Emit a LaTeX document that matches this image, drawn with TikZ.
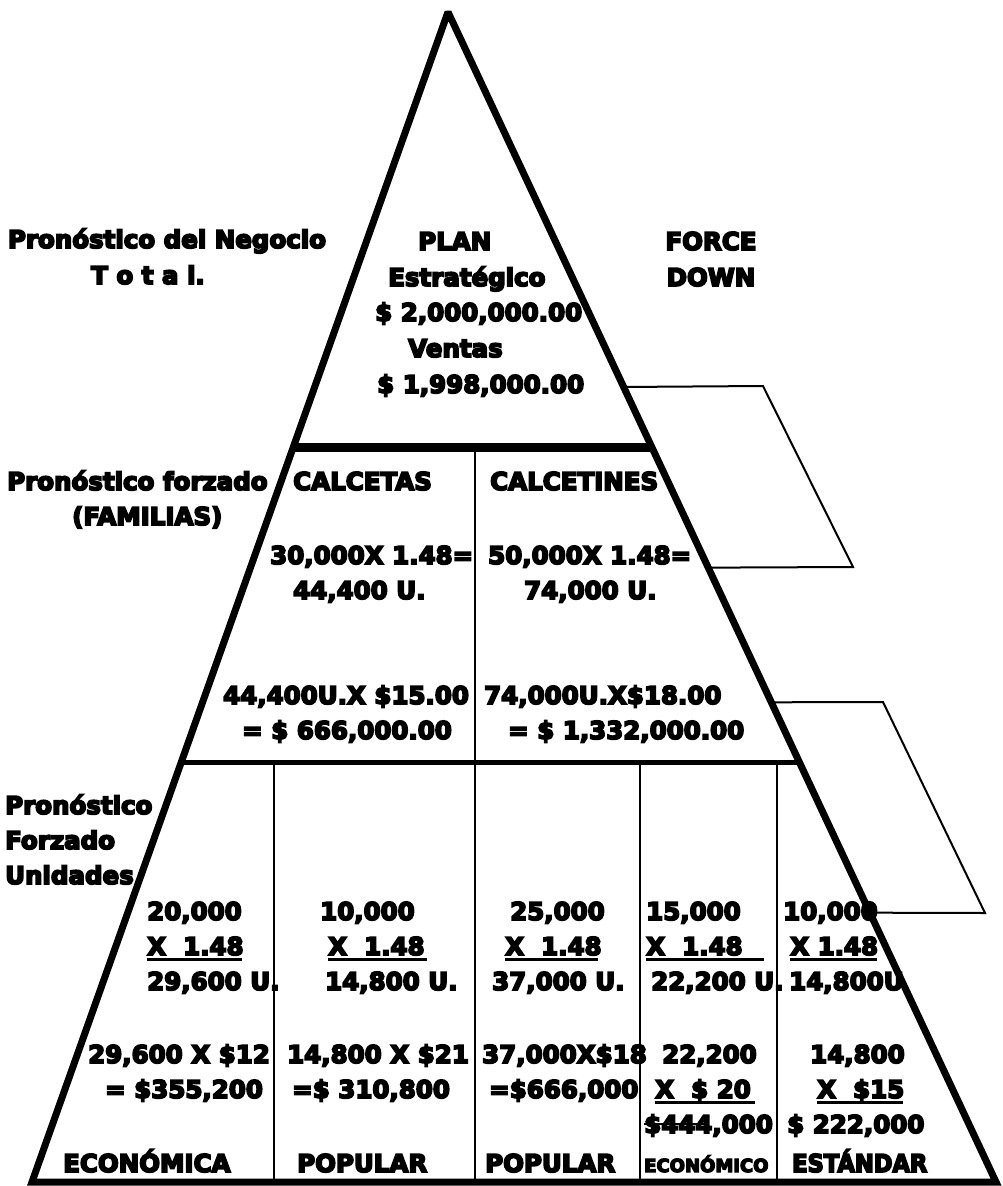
\documentclass[tikz,border=0pt]{standalone}
\usepackage{fontspec}
\newfontfamily\heavyfont{DejaVu Sans}[FakeBold=7]
\usetikzlibrary{calc}
\begin{document}
\begin{tikzpicture}[x=1pt,y=-1pt,
  lbl/.style={inner sep=0pt, font=\heavyfont\bfseries\fontsize{24.5}{30}\selectfont},
  small/.style={inner sep=0pt, font=\heavyfont\bfseries\fontsize{18}{22}\selectfont},
  outline/.style={line width=7pt, line join=miter, miter limit=2},
  heavybar/.style={line width=9pt},
  midbar/.style={line width=5pt},
  thinline/.style={line width=2pt},
  ulbar/.style={line width=2.3pt}]
\useasboundingbox (0,0) rectangle (1002,1186);

% pyramid corners
\coordinate (apex) at (448,12);
\coordinate (bl) at (32,1182);
\coordinate (br) at (996,1182);

% levels on the two sides
\coordinate (l1) at ($(apex)!0.3725!(bl)$);
\coordinate (r1) at ($(apex)!0.3725!(br)$);
\coordinate (l2) at ($(apex)!0.6411!(bl)$);
\coordinate (r2) at ($(apex)!0.6411!(br)$);

% side brackets on the right edge
\coordinate (pa1) at ($(apex)!0.3205!(br)$);
\coordinate (pa2) at (763,386);
\coordinate (pa3) at (853,567);
\coordinate (pa4) at ($(apex)!0.4749!(br)$);
\coordinate (pb1) at ($(apex)!0.5900!(br)$);
\coordinate (pb2) at (883,702);
\coordinate (pb3) at (985,913);
\coordinate (pb4) at ($(apex)!0.7698!(br)$);

\draw[thinline] (pa1) -- (pa2) -- (pa3) -- (pa4);
\draw[thinline] (pb1) -- (pb2) -- (pb3) -- (pb4);

% dividers
\draw[heavybar] (l1) -- (r1);
\draw[midbar] (l2) -- (r2);
\draw[thinline] (475,447) -- (475,762);
\foreach \xd in {274,475,640,777}
  \draw[thinline] (\xd,762) -- (\xd,1182);

\draw[outline] (apex) -- (br) -- (bl) -- cycle;

% top level
\node[lbl, anchor=base] (pn1) at (167,248) {Pronóstico del Negocio};
\node[lbl, anchor=base] (pn2) at (148,284) {T o t a l.};
\node[lbl, anchor=base west] (plan1) at (418,250) {PLAN};
\node[lbl, anchor=base west] (plan2) at (388,286) {Estratégico};
\node[lbl, anchor=base west] (plan3) at (375,321) {\$ 2,000,000.00};
\node[lbl, anchor=base west] (plan4) at (408,357) {Ventas};
\node[lbl, anchor=base west] (plan5) at (377,393) {\$ 1,998,000.00};
\node[lbl, anchor=base] (fd1) at (711,250) {FORCE};
\node[lbl, anchor=base] (fd2) at (711,286) {DOWN};

% families level
\node[lbl, anchor=base west] (pf1) at (7,490) {Pronóstico forzado};
\node[lbl, anchor=base west] (pf2) at (72,525) {(FAMILIAS)};
\node[lbl, anchor=base west] (cs1) at (293,490) {CALCETAS};
\node[lbl, anchor=base west] (cs2) at (270,564) {30,000X 1.48=};
\node[lbl, anchor=base west] (cs3) at (293,599) {44,400 U.};
\node[lbl, anchor=base west] (cs4) at (223,704) {44,400U.X \$15.00};
\node[lbl, anchor=base west] (cs5) at (242,739) {= \$ 666,000.00};
\node[lbl, anchor=base west] (cn1) at (490,490) {CALCETINES};
\node[lbl, anchor=base west] (cn2) at (488,564) {50,000X 1.48=};
\node[lbl, anchor=base west] (cn3) at (524,599) {74,000 U.};
\node[lbl, anchor=base west] (cn4) at (484,704) {74,000U.X\$18.00};
\node[lbl, anchor=base west] (cn5) at (508,739) {= \$ 1,332,000.00};

% units level
\node[lbl, anchor=base west] (pu1) at (5,814) {Pronóstico};
\node[lbl, anchor=base west] (pu2) at (5,849) {Forzado};
\node[lbl, anchor=base west] (pu3) at (5,884) {Unidades};

% column 1
\node[lbl, anchor=base west] (a1) at (147,920) {20,000};
\node[lbl, anchor=base west] (a2) at (147,955) {X\ \ 1.48};
\node[lbl, anchor=base west] (a3) at (147,990) {29,600 U.};
\node[lbl, anchor=base west] (a4) at (88,1063) {29,600 X \$12};
\node[lbl, anchor=base west] (a5) at (105,1098) {= \$355,200};
\node[lbl, anchor=base west] (a6) at (63,1172) {ECONÓMICA};
\draw[ulbar] ([yshift=-4.5pt]a2.base west) -- ++(95,0);

% column 2
\node[lbl, anchor=base west] (b1) at (320,920) {10,000};
\node[lbl, anchor=base west] (b2) at (328,955) {X\ \ 1.48};
\node[lbl, anchor=base west] (b3) at (325,990) {14,800 U.};
\node[lbl, anchor=base west] (b4) at (287,1063) {14,800 X \$21};
\node[lbl, anchor=base west] (b5) at (292,1098) {=\$ 310,800};
\node[lbl, anchor=base west] (b6) at (297,1172) {POPULAR};
\draw[ulbar] ([yshift=-4.5pt]b2.base west) -- ++(99,0);

% column 3
\node[lbl, anchor=base west] (c1) at (510,920) {25,000};
\node[lbl, anchor=base west] (c2) at (505,955) {X\ \ 1.48};
\node[lbl, anchor=base west] (c3) at (492,990) {37,000 U.};
\node[lbl, anchor=base west] (c4) at (482,1063) {37,000X\$18};
\node[lbl, anchor=base west] (c5) at (489,1098) {=\$666,000};
\node[lbl, anchor=base west] (c6) at (485,1172) {POPULAR};
\draw[ulbar] ([yshift=-4.5pt]c2.base west) -- ++(93,0);

% column 4
\node[lbl, anchor=base west] (d1) at (646,920) {15,000};
\node[lbl, anchor=base west] (d2) at (646,955) {X\ \ 1.48};
\node[lbl, anchor=base west] (d3) at (651,990) {22,200 U.};
\node[lbl, anchor=base west] (d4) at (662,1063) {22,200};
\node[lbl, anchor=base west] (d5) at (655,1098) {X\ \ \$ 20};
\node[lbl, anchor=base west] (d6) at (644,1133) {\$444,000};
\node[small, anchor=base west] (d7) at (644,1172) {ECONÓMICO};
\draw[ulbar] ([yshift=-4.5pt]d2.base west) -- ++(118,0);
\draw[ulbar] ([yshift=-4.5pt]d5.base west) -- ++(100,0);
\draw[thinline] ([yshift=9pt]d6.base west) -- ++(62,0);

% column 5
\node[lbl, anchor=base west] (e1) at (783,920) {10,000};
\node[lbl, anchor=base west] (e2) at (790,955) {X 1.48};
\node[lbl, anchor=base west] (e3) at (789,990) {14,800U};
\node[lbl, anchor=base west] (e4) at (810,1063) {14,800};
\node[lbl, anchor=base west] (e5) at (817,1098) {X\ \ \$15};
\node[lbl, anchor=base west] (e6) at (787,1133) {\$ 222,000};
\node[lbl, anchor=base west] (e7) at (792,1172) {\scalebox{0.92}[1]{ESTÁNDAR}};
\draw[ulbar] ([yshift=-4.5pt]e2.base west) -- ++(87,0);
\draw[ulbar] ([yshift=-4.5pt]e5.base west) -- ++(86,0);
\end{tikzpicture}
\end{document}
